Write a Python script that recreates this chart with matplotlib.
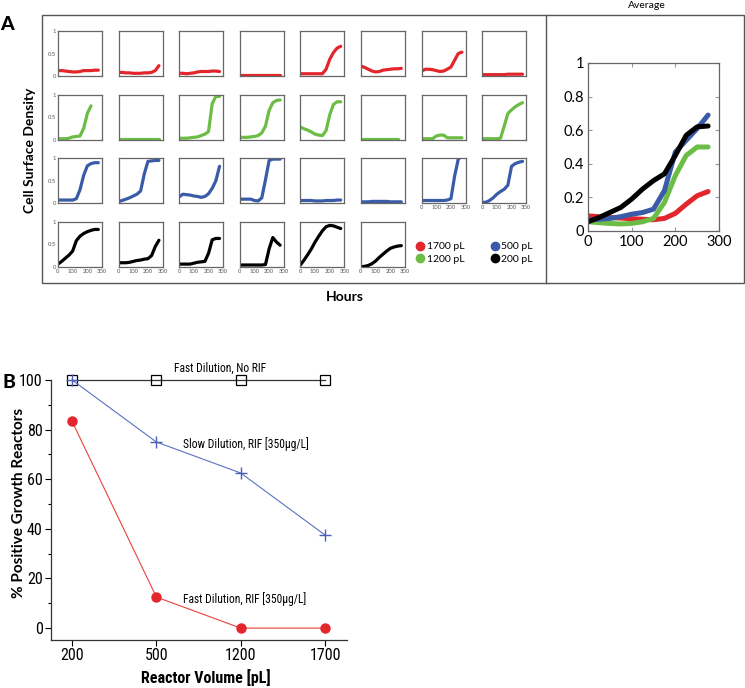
import numpy as np
import matplotlib
matplotlib.use("Agg")
import matplotlib.pyplot as plt
from matplotlib.patches import Rectangle
from matplotlib.lines import Line2D
from matplotlib.ticker import MultipleLocator

nan = np.nan
# ---------------- data ----------------
hours = [0, 25, 50, 75, 100, 125, 150, 175, 200, 225, 250, 275]

red_1700 = [
    [0.12, 0.12, 0.11, 0.10, 0.09, 0.09, 0.10, 0.12, 0.12, 0.12, 0.13, 0.13],
    [0.08, 0.08, 0.07, 0.07, 0.06, 0.06, 0.06, 0.07, 0.07, 0.08, 0.12, 0.23],
    [0.06, 0.06, 0.05, 0.06, 0.07, 0.09, 0.10, 0.10, 0.10, 0.11, 0.11, 0.10],
    [0.03, 0.03, 0.03, 0.03, 0.03, 0.03, 0.03, 0.03, 0.03, 0.03, 0.03, 0.03],
    [0.05, 0.05, 0.05, 0.05, 0.05, 0.05, 0.05, 0.15, 0.37, 0.52, 0.62, 0.66],
    [0.22, 0.19, 0.15, 0.11, 0.09, 0.10, 0.13, 0.14, 0.15, 0.16, 0.16, 0.17],
    [0.11, 0.15, 0.15, 0.14, 0.12, 0.10, 0.11, 0.15, 0.20, 0.35, 0.50, 0.53],
    [0.03, 0.03, 0.03, 0.03, 0.03, 0.03, 0.03, 0.04, 0.04, 0.04, 0.04, 0.04],
]
green_1200 = [
    [0.02, 0.02, 0.02, 0.03, 0.06, 0.07, 0.08, 0.25, 0.58, 0.75, nan, nan],
    [0.02, 0.02, 0.02, 0.02, 0.02, 0.02, 0.02, 0.02, 0.02, 0.02, 0.02, 0.02],
    [0.03, 0.03, 0.03, 0.04, 0.05, 0.06, 0.09, 0.12, 0.18, 0.80, 0.96, 0.96],
    [0.05, 0.05, 0.05, 0.06, 0.07, 0.09, 0.15, 0.30, 0.65, 0.82, 0.87, 0.88],
    [0.28, 0.24, 0.21, 0.17, 0.12, 0.10, 0.09, 0.20, 0.55, 0.78, 0.84, 0.84],
    [0.02, 0.02, 0.02, 0.02, 0.02, 0.02, 0.02, 0.02, 0.02, 0.02, 0.02, nan],
    [0.02, 0.02, 0.02, 0.02, 0.08, 0.10, 0.10, 0.04, 0.04, 0.04, 0.04, 0.04],
    [0.02, 0.02, 0.02, 0.02, 0.02, 0.03, 0.30, 0.58, 0.66, 0.73, 0.78, 0.82],
]
blue_500 = [
    [0.07, 0.07, 0.07, 0.07, 0.07, 0.10, 0.30, 0.62, 0.83, 0.88, 0.90, 0.90],
    [0.04, 0.06, 0.09, 0.12, 0.16, 0.20, 0.27, 0.65, 0.93, 0.94, 0.95, 0.95],
    [0.14, 0.20, 0.19, 0.18, 0.16, 0.15, 0.13, 0.15, 0.21, 0.33, 0.50, 0.82],
    [0.09, 0.09, 0.09, 0.09, 0.06, 0.05, 0.12, 0.52, 0.95, 0.98, 0.98, 0.98],
    [0.06, 0.06, 0.06, 0.06, 0.05, 0.05, 0.05, 0.06, 0.06, 0.06, 0.07, 0.07],
    [0.03, 0.03, 0.03, 0.04, 0.04, 0.04, 0.04, 0.04, 0.03, 0.03, 0.03, 0.03],
    [0.06, 0.06, 0.06, 0.06, 0.06, 0.06, 0.06, 0.07, 0.10, 0.60, 0.98, 1.05],
    [0.02, 0.02, 0.06, 0.12, 0.20, 0.26, 0.31, 0.40, 0.82, 0.88, 0.91, 0.93],
]
black_200 = [
    [0.06, 0.12, 0.19, 0.26, 0.35, 0.58, 0.68, 0.74, 0.78, 0.81, 0.83, 0.83],
    [0.09, 0.09, 0.09, 0.10, 0.12, 0.14, 0.15, 0.17, 0.18, 0.25, 0.45, 0.59],
    [0.06, 0.06, 0.06, 0.06, 0.08, 0.10, 0.11, 0.12, 0.30, 0.60, 0.63, 0.63],
    [0.04, 0.04, 0.04, 0.04, 0.04, 0.04, 0.04, 0.05, 0.40, 0.65, 0.55, 0.48],
    [0.04, 0.15, 0.27, 0.40, 0.55, 0.68, 0.80, 0.89, 0.92, 0.91, 0.88, 0.85],
    [0.00, 0.01, 0.03, 0.07, 0.13, 0.21, 0.28, 0.35, 0.41, 0.44, 0.46, 0.47],
]

avg_1700 = [0.09, 0.085, 0.08, 0.077, 0.073, 0.07, 0.067, 0.075, 0.105, 0.16, 0.21, 0.235]
avg_1200 = [0.055, 0.05, 0.045, 0.042, 0.045, 0.055, 0.075, 0.17, 0.33, 0.45, 0.50, 0.50]
avg_500 = [0.065, 0.07, 0.075, 0.085, 0.10, 0.11, 0.13, 0.24, 0.47, 0.54, 0.61, 0.69]
avg_200 = [0.055, 0.08, 0.11, 0.14, 0.19, 0.25, 0.30, 0.34, 0.45, 0.57, 0.62, 0.625]

volumes = ["200", "500", "1200", "1700"]
fast_no_rif = [100, 100, 100, 100]
slow_rif = [100, 75, 62.5, 37.5]
fast_rif = [83.3, 12.5, 0, 0]

volume_labels = ["1700 pL", "1200 pL", "500 pL", "200 pL"]
# ---------------- styling ----------------
RED = "#e3262b"
GREEN = "#6cbd45"
BLUE = "#3a5ba8"
BLACK = "#000000"
SPINE = "#666666"
SANS = ["Lato", "DejaVu Sans"]
NARROW = ["Liberation Sans Narrow", "DejaVu Sans Condensed", "Roboto Condensed", "Roboto", "DejaVu Sans"]
plt.rcParams["font.family"] = SANS

W, H = 745, 688
fig = plt.figure(figsize=(W / 100, H / 100), dpi=100)


def fx(px):
    return px / W


def fy(py):
    return 1 - py / H


def add_ax(left, top, right, bottom):
    return fig.add_axes([fx(left), fy(bottom), fx(right) - fx(left), fy(top) - fy(bottom)])


# panel A frame
fig.add_artist(Rectangle((fx(42), fy(283)), fx(744) - fx(42), fy(15) - fy(283),
                         transform=fig.transFigure, fill=False, ec="#555555", lw=1.0))
fig.add_artist(Line2D([fx(546), fx(546)], [fy(283), fy(15)],
                      transform=fig.transFigure, color="#555555", lw=1.0))

rows = [(red_1700, RED), (green_1200, GREEN), (blue_500, BLUE), (black_200, BLACK)]
for j, (series, col) in enumerate(rows):
    for i, vals in enumerate(series):
        left = 58 + 60.6 * i
        top = 31 + 63.6 * j
        ax = add_ax(left, top, left + 44, top + 45)
        ax.plot(hours, vals, color=col, lw=2.3, solid_capstyle="round")
        ax.set_xlim(0, 300)
        ax.set_ylim(0, 1)
        for s in ax.spines.values():
            s.set_color(SPINE)
            s.set_linewidth(0.9)
        ax.tick_params(length=0, pad=1.5, labelsize=4.2, labelcolor="#555555")
        ax.set_xticks([0, 100, 200, 300])
        ax.set_yticks([0, 0.5, 1])
        ax.set_yticklabels(["0", "0.5", "1"])
        if i != 0:
            ax.set_yticklabels([])
        show_x = (j == 3) or (j == 2 and i >= 6)
        if not show_x:
            ax.set_xticklabels([])

# Average panel
axa = add_ax(588, 63, 719, 231)
for vals, col in [(avg_1700, RED), (avg_1200, GREEN), (avg_500, BLUE), (avg_200, BLACK)]:
    axa.plot(hours, vals, color=col, lw=3.6, solid_capstyle="round")
axa.set_xlim(0, 300)
axa.set_ylim(0, 1)
axa.set_xticks([0, 100, 200, 300])
axa.set_yticks([0, 0.2, 0.4, 0.6, 0.8, 1])
axa.set_yticklabels(["0", "0.2", "0.4", "0.6", "0.8", "1"])
axa.tick_params(direction="in", length=3, top=True, right=True, labelsize=10.5,
                color="#999999", pad=3)
for s in axa.spines.values():
    s.set_color(SPINE)
    s.set_linewidth(0.9)
fig.text(fx(647), fy(5), "Average", ha="center", va="center", fontsize=7.5)

# legend for A
handles = [Line2D([], [], ls="none", marker="o", ms=6, color=c) for c in (RED, GREEN, BLUE, BLACK)]
fig.legend(handles, volume_labels, ncol=2, frameon=False, loc="center",
           bbox_to_anchor=(fx(474), fy(253)), prop={"size": 7.5},
           handletextpad=0.15, columnspacing=2.4, labelspacing=0.3, handlelength=1.0)

fig.text(fx(7), fy(25), "A", fontsize=14, fontweight="black", ha="center", va="center")
fig.text(fx(30), fy(150), "Cell Surface Density", rotation=90, fontsize=10, fontweight="bold",
         ha="center", va="center")
fig.text(fx(345), fy(297), "Hours", fontsize=10, fontweight="bold",
         ha="center", va="center")

# ---------------- Panel B ----------------
axb = add_ax(51, 380, 347, 640)
xpos = np.arange(len(volumes))
axb.plot(xpos, fast_no_rif, color="#333333", lw=0.9, marker="s", ms=7, mfc="none",
         mec="black", mew=0.9, clip_on=False, zorder=3)
axb.plot(xpos, slow_rif, color="#5b70c4", lw=0.8, marker="+", ms=8, mew=1.0,
         mec="#4a5fb5", clip_on=False, zorder=4)
axb.plot(xpos, fast_rif, color="#e9413b", lw=0.8, marker="o", ms=6.5, mfc="#e3262b",
         mec="#e3262b", clip_on=False, zorder=4)
axb.set_xlim(-0.25, 3.26)
axb.set_ylim(-4.8, 100)
axb.set_xticks(xpos)
axb.set_xticklabels(volumes, family=NARROW)
axb.set_yticks([0, 20, 40, 60, 80, 100])
axb.set_yticklabels(["0", "20", "40", "60", "80", "100"], family=NARROW)
axb.yaxis.set_minor_locator(MultipleLocator(10))
axb.spines["top"].set_visible(False)
axb.spines["right"].set_visible(False)
for s in ("left", "bottom"):
    axb.spines[s].set_linewidth(0.9)
    axb.spines[s].set_color("#333333")
axb.tick_params(which="major", direction="out", length=4, width=0.8, labelsize=11.5, pad=2)
axb.tick_params(which="minor", direction="out", length=2.5, width=0.8)

axb.text(1.76, 104.8, "Fast Dilution, No RIF", ha="center", va="center", fontsize=8.3,
         family=NARROW, clip_on=False)
axb.text(1.32, 74.2, "Slow Dilution, RIF [350\u00b5g/L]", ha="left", va="center",
         fontsize=8.3, family=NARROW)
axb.text(1.32, 11.7, "Fast Dilution, RIF [350\u00b5g/L]", ha="left", va="center",
         fontsize=8.3, family=NARROW)

fig.text(fx(206), fy(678), "Reactor Volume [pL]", fontsize=11.5, fontweight="bold",
         family=NARROW, ha="center", va="center")
fig.text(fx(19), fy(503), "% Positive Growth Reactors", rotation=90, fontsize=11,
         fontweight="bold", ha="center", va="center")
fig.text(fx(9), fy(383), "B", fontsize=14, fontweight="black", ha="center", va="center")

fig.savefig("out.png", dpi=100)
